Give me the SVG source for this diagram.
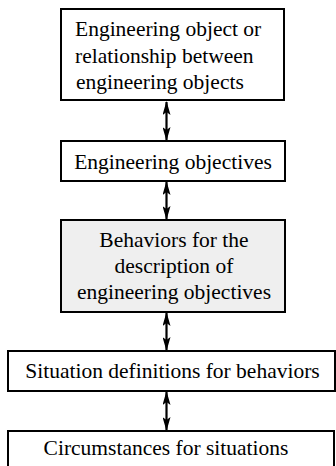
<svg xmlns="http://www.w3.org/2000/svg" width="336" height="466" viewBox="0 0 336 466">
  <style>
    .box { fill: #ffffff; stroke: #000000; stroke-width: 2; }
    .shaded { fill: #efefef; }
    .label { font-family: "Liberation Serif", "Times New Roman", serif; font-size: 21.5px; fill: #000000; }
    .mid { text-anchor: middle; }
    .link { stroke: #000000; stroke-width: 2.2; fill: none; marker-start: url(#head); marker-end: url(#head); }
  </style>
  <defs>
    <marker id="head" viewBox="0 0 14 8" refX="13" refY="4" markerUnits="userSpaceOnUse" markerWidth="14" markerHeight="8" orient="auto-start-reverse">
      <path d="M0,0 L14,4 L0,8 L3,4 Z" fill="#000000"/>
    </marker>
  </defs>
  <rect width="336" height="466" fill="#ffffff"/>

  <g id="connectors">
    <path class="link" d="M166.5,102 V140"/>
    <path class="link" d="M166.5,182 V219"/>
    <path class="link" d="M166.5,313 V350"/>
    <path class="link" d="M166.5,392 V430"/>
  </g>

  <g id="object">
    <rect class="box" x="61" y="9" width="223" height="91"/>
    <text class="label" x="75" y="36">Engineering object or</text>
    <text class="label" x="75" y="63">relationship between</text>
    <text class="label" x="76" y="89">engineering objects</text>
  </g>

  <g id="objectives">
    <rect class="box" x="61" y="141" width="224" height="40"/>
    <text class="label mid" x="173" y="169">Engineering objectives</text>
  </g>

  <g id="behaviors">
    <rect class="box shaded" x="61" y="220" width="224" height="92"/>
    <text class="label mid" x="174" y="247">Behaviors for the</text>
    <text class="label mid" x="174" y="273">description of</text>
    <text class="label mid" x="174" y="299">engineering objectives</text>
  </g>

  <g id="situations">
    <rect class="box" x="8" y="351" width="327" height="40"/>
    <text class="label mid" x="172.5" y="378">Situation definitions for behaviors</text>
  </g>

  <g id="circumstances">
    <rect class="box" x="8" y="431" width="326" height="40"/>
    <text class="label mid" x="166" y="455">Circumstances for situations</text>
  </g>
</svg>
